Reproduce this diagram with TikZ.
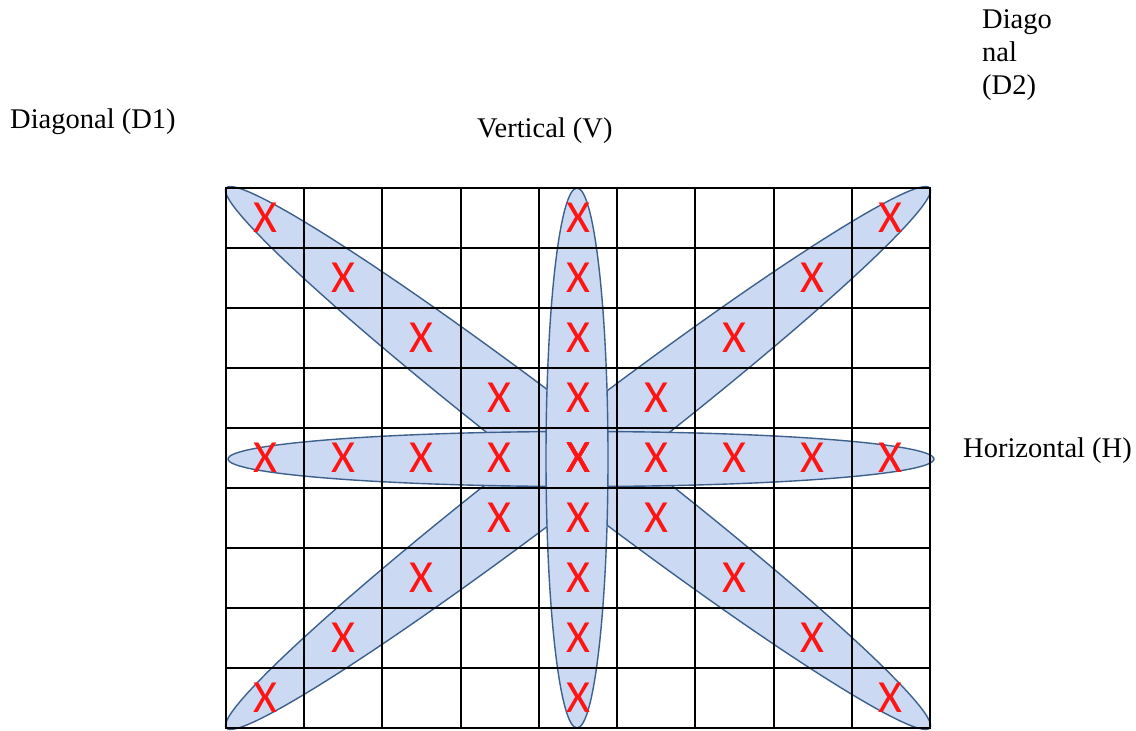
\documentclass[tikz,border=0pt]{standalone}
\usepackage{fontspec}
\setmainfont{Liberation Serif}
\newfontfamily\serfont{Liberation Serif}
\newfontfamily\xfont{Carlito}
\usetikzlibrary{shapes.geometric}
\definecolor{blobfill}{RGB}{203,217,242}
\definecolor{blobline}{RGB}{62,96,140}
\definecolor{xred}{RGB}{255,20,20}
\tikzset{
  blob/.style={ellipse, draw=blobline, line width=1.4pt, fill=blobfill, inner sep=0pt, outer sep=0pt},
  gridline/.style={black, line width=2pt},
  lbl/.style={font=\serfont\fontsize{28.5}{33}\selectfont, inner sep=0pt, anchor=base west, text=black},
  xmark/.style={font=\xfont\fontsize{46}{46}\selectfont, text=xred, inner sep=0pt}
}
\begin{document}
\begin{tikzpicture}[x=1pt,y=1pt]
\useasboundingbox (0,0) rectangle (1136,-731);
\fill[white] (0,0) rectangle (1136,-731);
% ellipses
\node[blob, minimum width=887pt, minimum height=72pt, rotate=-37.49] (d1) at (578,-458) {};
\node[blob, minimum width=887pt, minimum height=72pt, rotate=37.49] (d2) at (578,-458) {};
\node[blob, minimum width=706pt, minimum height=55pt] (h) at (581,-459) {};
\node[blob, minimum width=62pt, minimum height=540pt] (v) at (577,-458) {};
% grid
\foreach \i in {0,...,9} {
  \draw[gridline] ({226+78.222*\i},-188) -- ({226+78.222*\i},-728);
  \draw[gridline] (225,{-188-60*\i}) -- (931,{-188-60*\i});
}
% X marks
\foreach \i in {1,...,9} {
  \node[xmark] (xd1-\i) at ({226+78.222*(\i-0.5)},{-188-60*(\i-0.5)}) {X};
  \node[xmark] (xd2-\i) at ({226+78.222*(\i-0.5)},{-188-60*(9.5-\i)}) {X};
  \node[xmark] (xh-\i) at ({226+78.222*(\i-0.5)},{-188-60*4.5}) {X};
  \node[xmark] (xv-\i) at ({226+78.222*4.5},{-188-60*(\i-0.5)}) {X};
}
% labels
\node[lbl] (lD1) at (10,-128) {Diagonal (D1)};
\node[lbl] (lV) at (477,-137) {Vertical (V)};
\node[lbl] (lH) at (963,-457) {Horizontal (H)};
\node[lbl] (lD2a) at (982,-28) {Diago};
\node[lbl] (lD2b) at (982,-61) {nal};
\node[lbl] (lD2c) at (982,-94) {(D2)};
\end{tikzpicture}
\end{document}
